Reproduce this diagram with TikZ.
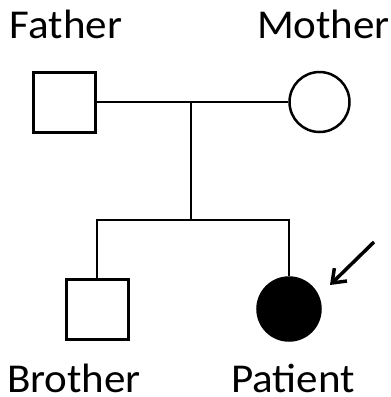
\documentclass[tikz,border=0pt]{standalone}
\usepackage{fontspec}
\setmainfont{Carlito}
\usetikzlibrary{arrows.meta}
\begin{document}
\begin{tikzpicture}[x=1pt,y=-1pt,
  male/.style={draw,line width=3pt,minimum width=62pt,minimum height=60pt,inner sep=0pt},
  female/.style={draw,circle,line width=2.5pt,minimum size=60pt,inner sep=0pt},
  affected/.style={female,fill=black,minimum size=63pt},
  lbl/.style={anchor=base,inner sep=0pt,text depth=0pt,font=\fontsize{41}{48}\selectfont},
  conn/.style={line width=2pt},
  pointer/.style={line width=3.5pt,-{Straight Barb[length=12pt,width=18pt,line width=3.5pt]}}]
\useasboundingbox (0,0) rectangle (391,397);
\node[male] (father) at (64.5,102) {};
\node[female] (mother) at (319.5,102) {};
\node[male] (brother) at (97,309) {};
\node[affected] (patient) at (289,309) {};
\node[lbl] (tf) at (66,38) {\scalebox{1.05}[1]{Father}};
\node[lbl] (tm) at (323.5,38) {\scalebox{1.05}[1]{Mother}};
\node[lbl] (tb) at (74,392) {\scalebox{1.05}[1]{Brother}};
\node[lbl] (tp) at (293,392) {\scalebox{1.05}[1]{Patient}};
\coordinate (mid) at (191,102);
\coordinate (sib) at (191,220);
\coordinate (arrstart) at (374,242);
\coordinate (arrtip) at (330,285);
\draw[conn] (father.east) -- (mother.west);
\draw[conn] (mid) -- (sib);
\draw[conn] (brother.north) |- (sib) -| (patient.north);
\draw[pointer] (arrstart) -- (arrtip);
\end{tikzpicture}
\end{document}
